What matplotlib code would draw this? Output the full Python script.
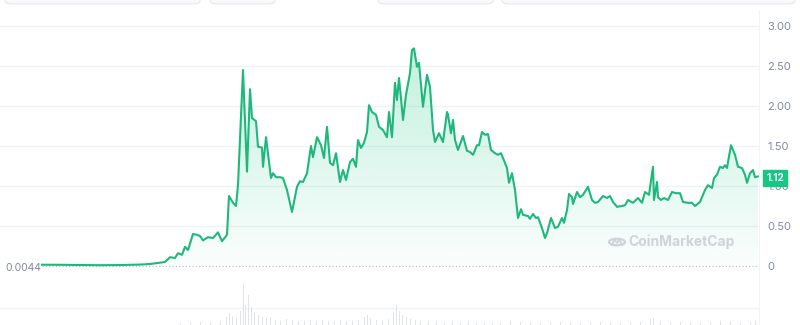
import numpy as np
import matplotlib
matplotlib.use("Agg")
import matplotlib.pyplot as plt
from matplotlib.patches import FancyBboxPatch, Circle
from matplotlib.colors import to_rgb

plt.rcParams['font.family'] = ['Inter', 'DejaVu Sans']

# price history (days since first quote, price in USD)
days = [0, 36, 76, 116, 156, 196, 216, 246, 256, 266, 272, 280, 286, 292, 302, 310, 316, 322,
        332, 342, 352, 360, 370, 374, 382, 388, 392, 402, 410, 416, 420, 428, 432, 440, 442,
        448, 452, 458, 462, 468, 476, 482, 490, 500, 510, 516, 522, 530, 538, 542, 550, 558,
        564, 570, 576, 582, 588, 596, 602, 608, 616, 622, 628, 632, 638, 644, 650, 654, 660,
        668, 674, 682, 690, 694, 700, 706, 710, 714, 718, 722, 728, 736, 740, 744, 750, 754,
        762, 770, 776, 782, 786, 794, 802, 810, 812, 818, 822, 826, 832, 842, 850, 856, 862,
        870, 874, 880, 886, 892, 898, 906, 912, 918, 922, 930, 934, 940, 946, 952, 958, 962,
        972, 976, 982, 988, 992, 1000, 1006, 1010, 1018, 1026, 1032, 1040, 1044, 1050, 1054,
        1060, 1062, 1070, 1076, 1082, 1092, 1100, 1106, 1112, 1122, 1130, 1136, 1142, 1150,
        1160, 1166, 1172, 1182, 1192, 1200, 1206, 1214, 1222, 1224, 1230, 1232, 1238, 1244,
        1252, 1260, 1268, 1276, 1282, 1292, 1300, 1306, 1316, 1326, 1332, 1340, 1344, 1350,
        1356, 1362, 1366, 1370, 1378, 1386, 1392, 1400, 1406, 1410, 1416, 1422, 1426, 1432]
price = [0.016, 0.015, 0.012, 0.010, 0.012, 0.018, 0.025, 0.05, 0.11, 0.10, 0.16, 0.14, 0.24,
         0.20, 0.40, 0.39, 0.375, 0.32, 0.36, 0.35, 0.42, 0.31, 0.39, 0.875, 0.79, 0.75, 1.01,
         2.45, 1.18, 2.21, 1.85, 1.81, 1.49, 1.48, 1.24, 1.61, 1.41, 1.10, 1.16, 1.11, 1.11,
         1.10, 0.95, 0.675, 0.99, 1.06, 1.05, 1.16, 1.50, 1.36, 1.61, 1.51, 1.35, 1.74, 1.29,
         1.26, 1.41, 1.05, 1.20, 1.075, 1.30, 1.34, 1.24, 1.575, 1.475, 1.54, 1.675, 2.01,
         1.925, 1.89, 1.74, 1.70, 1.61, 1.925, 1.61, 2.29, 2.075, 2.35, 2.10, 1.825, 2.14,
         2.41, 2.70, 2.72, 2.49, 2.54, 1.99, 2.39, 2.24, 1.70, 1.55, 1.66, 1.55, 1.925, 1.89,
         1.66, 1.825, 1.575, 1.45, 1.625, 1.44, 1.425, 1.39, 1.51, 1.51, 1.675, 1.64, 1.65,
         1.45, 1.41, 1.39, 1.41, 1.35, 1.225, 1.04, 1.16, 0.95, 0.60, 0.71, 0.64, 0.625, 0.59,
         0.65, 0.60, 0.61, 0.475, 0.35, 0.41, 0.60, 0.475, 0.49, 0.60, 0.54, 0.70, 0.90, 0.86,
         0.775, 0.925, 0.86, 0.89, 0.99, 0.825, 0.79, 0.80, 0.875, 0.85, 0.875, 0.80, 0.74,
         0.75, 0.76, 0.825, 0.79, 0.85, 0.79, 0.925, 0.89, 1.24, 0.825, 1.05, 0.86, 0.825,
         0.85, 0.825, 0.925, 0.91, 0.91, 0.80, 0.79, 0.79, 0.75, 0.80, 0.95, 1.01, 0.975,
         1.10, 1.14, 1.24, 1.225, 1.26, 1.225, 1.51, 1.39, 1.24, 1.225, 1.14, 1.04, 1.16,
         1.20, 1.11, 1.12]

# traded volume (same day scale, arbitrary units)
vol_days = [276, 296, 316, 336, 356, 368, 374, 380, 388, 396, 402, 406, 412, 418, 424, 432,
            440, 448, 456, 466, 476, 488, 500, 512, 524, 536, 548, 560, 572, 584, 596, 608,
            620, 632, 644, 650, 656, 668, 680, 692, 702, 708, 714, 720, 728, 736, 746, 756,
            772, 788, 804, 820, 836, 852, 868, 884, 900, 916, 936, 956, 976, 996, 1016, 1036,
            1056, 1076, 1096, 1116, 1136, 1156, 1176, 1196, 1216, 1222, 1236, 1256, 1276,
            1296, 1316, 1336, 1356, 1376, 1396, 1416, 1426]
volume = [2, 3, 3, 3, 4, 8, 12, 9, 7, 14, 42, 20, 30, 18, 12, 10, 8, 7, 8, 5, 4, 6, 5, 4, 4,
          5, 4, 5, 4, 4, 5, 4, 4, 5, 8, 10, 7, 5, 4, 6, 12, 20, 14, 10, 8, 6, 5, 4, 4, 4, 3,
          4, 3, 4, 3, 3, 3, 3, 4, 3, 3, 3, 3, 3, 3, 3, 3, 3, 3, 3, 3, 3, 6, 7, 4, 3, 3, 3, 3,
          3, 4, 4, 3, 3, 4]

y_ticks = [0, 0.5, 1.0, 1.5, 2.0, 2.5, 3.0]
y_tick_labels = ["0", "0.50", "1.00", "1.50", "2.00", "2.50", "3.00"]
first_label = "0.0044"
last_label = "1.12"

GREEN = "#16c784"
LINE = "#1fb87c"
GRAY_TXT = "#808a9d"
MARK = "#cfd3da"

W, H = 800, 325
fig = plt.figure(figsize=(8, 3.25), dpi=100)
fig.patch.set_facecolor("white")

x_lim = (-84, 1434)
right_px = 759

ax = fig.add_axes((0, 45 / H, right_px / W, 260 / H))
ax.set_xlim(*x_lim)
ax.set_ylim(-0.175, 3.075)
for s in ax.spines.values():
    s.set_visible(False)
ax.set_xticks([])

for t in y_ticks[1:]:
    ax.axhline(t, color="#eff2f5", lw=0.9, zorder=0)
ax.hlines(0, days[0], x_lim[1], colors="#b8bdc7", lw=0.8, linestyles=(0, (1, 2)), zorder=1)

# gradient fill under line
poly = ax.fill_between(days, price, 0, facecolor="none", edgecolor="none")
top = max(price)
rgb = np.array(to_rgb(GREEN))
n = 256
grad = np.zeros((n, 1, 4))
grad[:, 0, :3] = rgb
grad[:, 0, 3] = np.linspace(0.26, 0.02, n)
im = ax.imshow(grad, extent=(days[0], days[-1], 0, top), aspect="auto", origin="upper", zorder=1)
im.set_clip_path(poly.get_paths()[0], transform=ax.transData)

ax.plot(days, price, color=LINE, lw=1.5, zorder=3, solid_joinstyle="round")

ax.yaxis.tick_right()
ax.set_yticks(y_ticks)
ax.set_yticklabels(y_tick_labels)
ax.tick_params(axis="y", length=0, pad=6, labelsize=8, labelcolor=GRAY_TXT)

# volume panel
vax = fig.add_axes((0, 0, right_px / W, 42 / H))
vax.set_xlim(*x_lim)
vax.set_ylim(0, 42)
vax.axis("off")
vax.axhline(17, color="#f0f2f5", lw=0.9, zorder=0)
vax.bar(vol_days, volume, width=2.0, color="#ccd3df", alpha=0.6, zorder=1)

# right border line
fig.add_artist(plt.Line2D([right_px / W, right_px / W], [0, 1 - 10 / H],
                          color="#f2f3f5", lw=0.8))

# first price label
fig.text(5 / W, 1 - 268 / H, first_label, fontsize=7.5, color=GRAY_TXT, va="center", ha="left")

# last price tag
fig.text(775 / W, 1 - 178 / H, last_label, fontsize=7, color="white", weight="bold",
         ha="center", va="center",
         bbox=dict(boxstyle="square,pad=0.35", fc=GREEN, ec=GREEN))

# watermark
fig.text(628 / W, 1 - 242 / H, "CoinMarketCap", fontsize=10, color=MARK,
         weight="bold", ha="left", va="center")
fig.add_artist(Circle((617 / W, 1 - 242 / H), 8 / W, transform=fig.transFigure,
                      fill=False, ec=MARK, lw=1.6))
mx = np.array([612, 614.5, 617, 619.5, 622]) / W
my = 1 - np.array([245, 239.5, 243, 239.5, 245]) / H
fig.add_artist(plt.Line2D(mx, my, color=MARK, lw=1.3))

# toolbar chips cut off at the top
for x0, x1 in [(5, 200), (210, 275), (378, 493), (502, 795)]:
    fig.add_artist(FancyBboxPatch((x0 / W, 1 - 4 / H), (x1 - x0) / W, 14 / H,
                                  boxstyle="round,pad=0,rounding_size=0.01",
                                  transform=fig.transFigure, fc="#f8f9fa",
                                  ec="#e6e8ec", lw=0.8))

fig.savefig("out.png", dpi=100)
